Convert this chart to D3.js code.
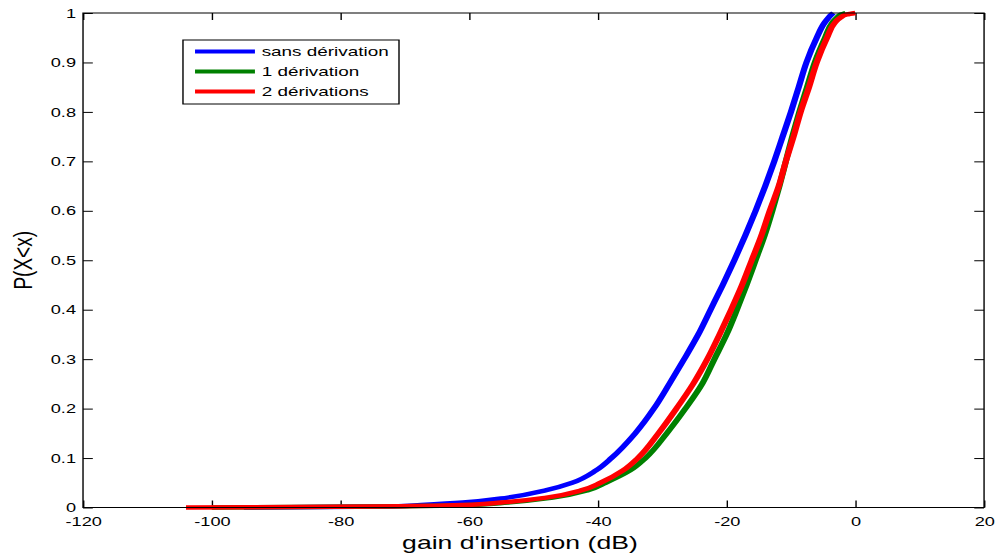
<!DOCTYPE html>
<html>
<head>
<meta charset="utf-8">
<script src="https://cdn.jsdelivr.net/npm/d3@7"></script>
<style>
  body { margin: 0; background: #fff; }
  svg { display: block; }
  text { font-family: Arial, "Liberation Sans", Helvetica, sans-serif; fill: #000; }
</style>
</head>
<body>
<svg id="chart" width="997" height="553"></svg>
<script>
// Empirical CDF of the insertion gain: quantiles (dB) at shared probability levels
const probLevels = [0, 0.002, 0.005, 0.01, 0.02, 0.035, 0.05, 0.075, 0.1, 0.15, 0.2, 0.25, 0.3, 0.35,
                    0.4, 0.45, 0.5, 0.55, 0.6, 0.65, 0.7, 0.75, 0.8, 0.85, 0.9, 0.95, 0.98, 0.99, 0.997, 1];
const gainSansDerivation = [-95, -72, -67.5, -61, -54, -48, -44, -40.3, -37.9, -34.2, -31.3, -28.9, -26.6, -24.4,
                            -22.5, -20.6, -18.8, -17.1, -15.5, -14.0, -12.6, -11.3, -10.0, -8.8, -7.6, -6.0, -4.8, -4.2, -3.7, -3.4];
const gainUneDerivation = [-100, -74, -60, -54, -47, -41.5, -38.8, -35.0, -32.6, -29.3, -26.4, -23.8, -21.9, -20.0,
                           -18.4, -16.9, -15.5, -14.1, -12.9, -11.8, -10.8, -9.8, -8.7, -7.5, -6.3, -4.7, -3.6, -2.9, -2.2, -1.5];
const gainDeuxDerivations = [-104, -75, -61, -55, -48, -42.5, -39.6, -36.1, -33.8, -30.6, -27.8, -25.2, -23.0, -21.1,
                             -19.3, -17.6, -16.1, -14.6, -13.3, -11.9, -10.8, -9.6, -8.5, -7.2, -6.0, -4.4, -3.2, -2.4, -1.3, 0];

const seriesNames = ["sans dérivation", "1 dérivation", "2 dérivations"];
const seriesColors = ["#0000ff", "#008000", "#ff0000"];
const xTickValues = [-120, -100, -80, -60, -40, -20, 0, 20];
const yTickValues = [0, 0.1, 0.2, 0.3, 0.4, 0.5, 0.6, 0.7, 0.8, 0.9, 1];
const xLabel = "gain d'insertion (dB)";
const yLabel = "P(X<x)";

// The figure is laid out on a horizontally widened canvas
const stretch = 1.4;
const plot = { left: 59.3, right: 702.9, top: 13, bottom: 507.5 };

const svg = d3.select("#chart");
const root = svg.append("g").attr("transform", `scale(${stretch},1)`);

const x = d3.scaleLinear().domain([-120, 20]).range([plot.left, plot.right]);
const y = d3.scaleLinear().domain([0, 1]).range([plot.bottom, plot.top]);

// Axes: MATLAB-like box with inward ticks on every side
const fmtX = d => String(d);
const fmtY = d => String(+d.toFixed(1));
const tick = 7;

const gx = root.append("g").attr("transform", `translate(0,${plot.bottom})`)
  .call(d3.axisBottom(x).tickValues(xTickValues).tickSizeInner(-tick).tickSizeOuter(0).tickPadding(9).tickFormat(fmtX));
const gxTop = root.append("g").attr("transform", `translate(0,${plot.top})`)
  .call(d3.axisTop(x).tickValues(xTickValues).tickSizeInner(-tick).tickSizeOuter(0).tickFormat(""));
const gy = root.append("g").attr("transform", `translate(${plot.left},0)`)
  .call(d3.axisLeft(y).tickValues(yTickValues).tickSizeInner(-tick).tickSizeOuter(0).tickPadding(5).tickFormat(fmtY));
const gyRight = root.append("g").attr("transform", `translate(${plot.right},0)`)
  .call(d3.axisRight(y).tickValues(yTickValues).tickSizeInner(-tick).tickSizeOuter(0).tickFormat(""));

[gx, gxTop, gy, gyRight].forEach(g => {
  g.select(".domain").remove();
  g.selectAll(".tick line").attr("stroke", "#000").attr("stroke-width", 1);
  g.selectAll(".tick text").attr("font-size", 13).attr("fill", "#000");
});

// Curves
const series = [gainSansDerivation, gainUneDerivation, gainDeuxDerivations].map((g, i) => ({
  name: seriesNames[i],
  color: seriesColors[i],
  points: g.map((v, k) => [v, probLevels[k]])
}));

const line = d3.line()
  .x(d => x(d[0]))
  .y(d => y(d[1]))
  .curve(d3.curveMonotoneY);

root.append("g").selectAll("path")
  .data(series)
  .join("path")
  .attr("d", d => line(d.points))
  .attr("fill", "none")
  .attr("stroke", d => d.color)
  .attr("stroke-width", 4.5)
  .attr("stroke-linejoin", "round");

// Plot frame
root.append("rect")
  .attr("x", plot.left).attr("y", plot.top)
  .attr("width", plot.right - plot.left).attr("height", plot.bottom - plot.top)
  .attr("fill", "none").attr("stroke", "#000").attr("stroke-width", 1);

// Axis titles
root.append("text")
  .attr("x", 371.4).attr("y", 549)
  .attr("text-anchor", "middle").attr("font-size", 19)
  .text(xLabel);

root.append("text")
  .attr("transform", `translate(23,${y(0.5)}) rotate(-90)`)
  .attr("text-anchor", "middle").attr("font-size", 19)
  .text(yLabel);

// Legend
const lg = root.append("g");
lg.append("rect")
  .attr("x", 130.7).attr("y", 40).attr("width", 154.3).attr("height", 64)
  .attr("fill", "#fff").attr("stroke", "#000").attr("stroke-width", 1);
const items = lg.selectAll("g.item").data(series).join("g")
  .attr("class", "item")
  .attr("transform", (d, i) => `translate(0,${51.5 + i * 20})`);
items.append("line")
  .attr("x1", 139.3).attr("x2", 182.1)
  .attr("stroke", d => d.color).attr("stroke-width", 4);
items.append("text")
  .attr("x", 186.9).attr("dy", "0.35em")
  .attr("font-size", 13.5)
  .text(d => d.name);
</script>
</body>
</html>
